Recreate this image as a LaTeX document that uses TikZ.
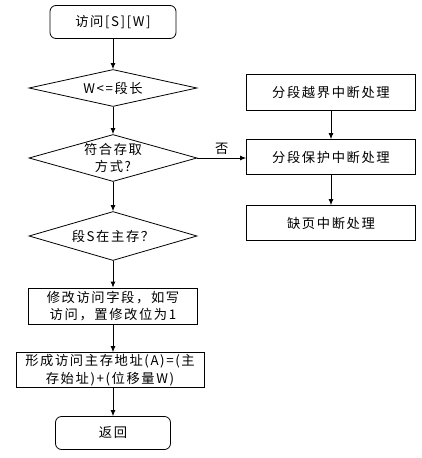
\documentclass[tikz,border=0pt]{standalone}
\usepackage{fontspec}
\newfontfamily\cjk{Noto Sans CJK SC}[LetterSpace=12]
\usepackage{tikz}
\usetikzlibrary{shapes.geometric, arrows.meta}

\begin{document}
\begin{tikzpicture}[x=1pt, y=-1pt,
    every node/.style={font=\cjk\fontsize{13.3}{17.5}\selectfont, align=center},
    box/.style={draw, thick, inner sep=0pt, minimum width=#1, minimum height=35pt},
    term/.style={box=#1, rounded corners=6pt},
    dia/.style={draw, thick, diamond, inner sep=0pt, minimum width=168pt, minimum height=#1},
    flow/.style={thick, -{Latex[length=6pt, width=5pt]}}]
    \useasboundingbox (0,0) rectangle (422,458);

    % left column
    \node[term=126pt, minimum height=33pt] (start) at (113, 22) {访问[S][W]};
    \node[dia=37pt, label=center:{W<=段长}] (len) at (113, 88) {};
    \node[dia=47pt, label={[align=center]center:符合存取\\方式?}] (mode) at (113, 158) {};
    \node[dia=49pt, label=center:{段S在主存？}] (inmem) at (113, 236) {};
    \node[box=169pt, minimum height=36pt] (modify) at (113, 306) {修改访问字段，如写\\访问，置修改位为1};
    \node[box=188pt] (addr) at (110, 370) {形成访问主存地址(A)=(主\\存始址)+(位移量W)};
    \node[term=115pt, minimum height=33pt] (ret) at (113, 433) {返回};

    % right column
    \node[box=169pt, minimum height=36pt] (bound) at (331, 92) {分段越界中断处理};
    \node[box=169pt] (protect) at (331, 157) {分段保护中断处理};
    \node[box=169pt] (fault) at (331, 223) {缺页中断处理};

    % connectors
    \draw[flow] (start) -- (len);
    \draw[flow] (len) -- (mode);
    \draw[flow] (mode) -- (inmem);
    \draw[flow] (inmem) -- (modify);
    \draw[flow] (modify.south) -- (modify.south |- addr.north);
    \draw[flow] (addr.south -| ret.north) -- (ret);
    \draw[flow] (mode.east) -- node[above] {否} (mode.east -| protect.west);
    \draw[flow] (bound) -- (protect);
    \draw[flow] (protect) -- (fault);
\end{tikzpicture}
\end{document}
